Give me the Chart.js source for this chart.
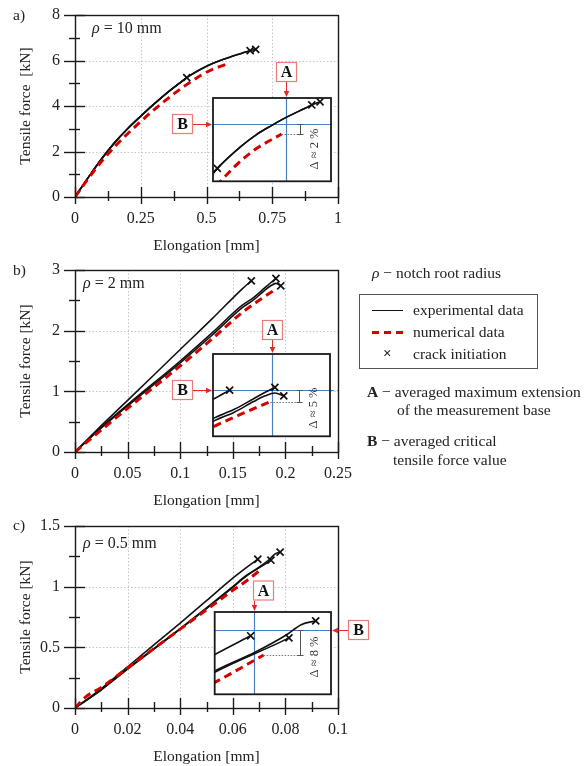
<!DOCTYPE html>
<html>
<head>
<meta charset="utf-8">
<script src="https://cdn.jsdelivr.net/npm/chart.js@4.4.1/dist/chart.umd.min.js"></script>
<style>
  body { margin: 0; background: #fff; }
  #page { position: relative; width: 586px; height: 766px; overflow: hidden;
          font-family: "Liberation Serif", "DejaVu Serif", serif; color: #222; }
  canvas { position: absolute; }
  .t { position: absolute; white-space: nowrap; font-size: 15.5px; line-height: 1; }
  .legend { position: absolute; left: 359px; top: 294px; width: 177px; height: 73px; border: 1px solid #555; }
  .sample { position: absolute; left: 12px; width: 31px; }
</style>
</head>
<body>
<div id="page">
  <canvas id="mainA" width="360" height="256" style="left:0;top:0"></canvas>
  <canvas id="mainB" width="360" height="256" style="left:0;top:255px"></canvas>
  <canvas id="mainC" width="360" height="256" style="left:0;top:511px"></canvas>
  <canvas id="insetA" width="172" height="130" style="left:168px;top:58px"></canvas>
  <canvas id="insetB" width="172" height="128" style="left:168px;top:315px"></canvas>
  <canvas id="insetC" width="166" height="125" style="left:208px;top:576px"></canvas>

  <div class="t" style="left:13px;top:7px">a)</div>
  <div class="t" style="left:13px;top:262px">b)</div>
  <div class="t" style="left:13px;top:517px">c)</div>
  <div class="t" style="left:92px;top:20px;font-size:16px"><i>ρ</i> = 10 mm</div>
  <div class="t" style="left:83px;top:275px;font-size:16px"><i>ρ</i> = 2 mm</div>
  <div class="t" style="left:83px;top:535px;font-size:16px"><i>ρ</i> = 0.5 mm</div>

  <div class="t" style="left:372px;top:265px"><i>ρ</i> − notch root radius</div>
  <div class="legend">
    <div class="sample" style="top:15px;height:0;border-top:1.6px solid #111"></div>
    <div class="sample" style="top:36px;height:3px;background:repeating-linear-gradient(90deg,#d40000 0 7px,transparent 7px 12px)"></div>
    <div class="t" style="left:23px;top:51px;font-size:15px;font-weight:bold">×</div>
    <div class="t" style="left:53px;top:7px">experimental data</div>
    <div class="t" style="left:53px;top:29px">numerical data</div>
    <div class="t" style="left:53px;top:51px">crack initiation</div>
  </div>
  <div class="t" style="left:367px;top:384px"><b>A</b> − averaged maximum extension</div>
  <div class="t" style="left:397px;top:402px">of the measurement base</div>
  <div class="t" style="left:367px;top:433px"><b>B</b> − averaged critical</div>
  <div class="t" style="left:393px;top:452px">tensile force value</div>
</div>

<script>
Chart.defaults.font.family = "'Liberation Serif', 'DejaVu Serif', serif";
Chart.defaults.font.size = 16;
Chart.defaults.color = '#222';

// a) rho = 10 mm
const aExp1X = [0, 0.05, 0.1, 0.15, 0.2, 0.25, 0.3, 0.35, 0.4, 0.425];
const aExp1Y = [0, 0.85, 1.66, 2.38, 3.0, 3.55, 4.08, 4.58, 5.03, 5.25];
const aExp2X = [0, 0.05, 0.1, 0.15, 0.2, 0.25, 0.3, 0.35, 0.4, 0.425, 0.487, 0.525, 0.564, 0.598, 0.649, 0.666];
const aExp2Y = [0, 0.85, 1.66, 2.38, 3.0, 3.55, 4.08, 4.58, 5.03, 5.25, 5.67, 5.88, 6.05, 6.19, 6.37, 6.43];
const aExp3X = [0, 0.05, 0.1, 0.15, 0.2, 0.25, 0.3, 0.35, 0.4, 0.425, 0.487, 0.525, 0.564, 0.598, 0.649, 0.666, 0.687];
const aExp3Y = [0, 0.85, 1.66, 2.38, 3.0, 3.55, 4.08, 4.58, 5.03, 5.25, 5.67, 5.88, 6.05, 6.19, 6.37, 6.43, 6.49];
const aNumX = [0, 0.05, 0.1, 0.15, 0.2, 0.25, 0.3, 0.35, 0.4, 0.432, 0.4745, 0.521, 0.589];
const aNumY = [0, 0.8, 1.55, 2.2, 2.78, 3.32, 3.83, 4.3, 4.74, 5.0, 5.32, 5.6, 5.89];
const aCrackX = [0.425, 0.666, 0.687];
const aCrackY = [5.25, 6.43, 6.49];
const aInsetX = [0.414, 0.715];
const aInsetY = [5.01, 6.56];
const aAvgExt = 0.6;      // A
const aCritForce = 6.07;  // B

// b) rho = 2 mm
const bExp1X = [0, 0.02, 0.05, 0.1, 0.13, 0.159, 0.1676];
const bExp1Y = [0, 0.35, 0.85, 1.69, 2.19, 2.69, 2.82];
const bExp2X = [0, 0.02, 0.05, 0.1, 0.13, 0.159, 0.17, 0.18, 0.186, 0.191];
const bExp2Y = [0, 0.33, 0.78, 1.5, 1.96, 2.42, 2.55, 2.7, 2.79, 2.86];
const bExp3X = [0, 0.02, 0.05, 0.1, 0.13, 0.159, 0.17, 0.18, 0.186, 0.191, 0.1956];
const bExp3Y = [0, 0.32, 0.76, 1.47, 1.92, 2.38, 2.51, 2.66, 2.74, 2.78, 2.74];
const bNumX = [0, 0.02, 0.05, 0.1, 0.13, 0.159, 0.175, 0.1887];
const bNumY = [0, 0.29, 0.72, 1.42, 1.86, 2.3, 2.5, 2.66];
const bCrackX = [0.1676, 0.191, 0.1956];
const bCrackY = [2.82, 2.86, 2.74];
const bInsetX = [0.159, 0.2195];
const bInsetY = [2.17, 3.33];
const bAvgExt = 0.1893;
const bCritForce = 2.82;

// c) rho = 0.5 mm
const cExp1X = [0, 0.01, 0.02, 0.03, 0.04, 0.05, 0.06, 0.065, 0.0695];
const cExp1Y = [0, 0.16, 0.34, 0.52, 0.7, 0.885, 1.07, 1.155, 1.226];
const cExp2X = [0, 0.01, 0.02, 0.03, 0.04, 0.05, 0.06, 0.065, 0.0733, 0.0745];
const cExp2Y = [0, 0.15, 0.32, 0.485, 0.65, 0.82, 0.995, 1.085, 1.2, 1.218];
const cExp3X = [0, 0.01, 0.02, 0.03, 0.04, 0.05, 0.06, 0.065, 0.07, 0.0742, 0.0761, 0.078];
const cExp3Y = [0, 0.15, 0.325, 0.49, 0.655, 0.825, 1.0, 1.09, 1.16, 1.23, 1.27, 1.285];
const cNumX = [0, 0.004, 0.01, 0.02, 0.03, 0.04, 0.05, 0.06, 0.065, 0.0712];
const cNumY = [0, 0.09, 0.17, 0.33, 0.49, 0.65, 0.81, 0.97, 1.045, 1.15];
const cCrackX = [0.0695, 0.0745, 0.078];
const cCrackY = [1.226, 1.218, 1.285];
const cInsetX = [0.0648, 0.08];
const cInsetY = [0.995, 1.32];
const cAvgExt = 0.0699;
const cCritForce = 1.247;

const pts = (xs, ys) => xs.map((x, i) => ({ x, y: ys[i] }));
const fmt = v => String(Math.round(v * 1000) / 1000);
const px = v => Math.round(v) + 0.5;

function seg(ctx, x1, y1, x2, y2) {
  ctx.beginPath(); ctx.moveTo(x1, y1); ctx.lineTo(x2, y2); ctx.stroke();
}

// frame, dotted grid and the ticks that cross the left/bottom axes
const axesBox = {
  id: 'axesBox',
  beforeDatasetsDraw(chart, args, o) {
    const { ctx, chartArea: a, scales: { x, y } } = chart;
    ctx.save();
    ctx.strokeStyle = '#c6c6c6'; ctx.lineWidth = 1; ctx.setLineDash([1.5, 2]);
    x.ticks.forEach(t => {
      const p = px(x.getPixelForValue(t.value));
      if (p > a.left + 2 && p < a.right - 2) seg(ctx, p, a.top, p, a.bottom);
    });
    y.ticks.forEach(t => {
      const p = px(y.getPixelForValue(t.value));
      if (p > a.top + 2 && p < a.bottom - 2) seg(ctx, a.left, p, a.right, p);
    });
    ctx.restore();
  },
  afterDatasetsDraw(chart, args, o) {
    const { ctx, chartArea: a, scales: { x, y } } = chart;
    ctx.save();
    ctx.strokeStyle = '#1a1a1a'; ctx.lineWidth = 1.4;
    ctx.strokeRect(px(a.left), px(a.top), Math.round(a.right - a.left), Math.round(a.bottom - a.top));
    const nx = Math.round((x.max - x.min) / o.xMinor);
    for (let i = 0; i <= nx; i++) {
      const p = px(x.getPixelForValue(x.min + i * o.xMinor));
      const major = i % 2 === 0;
      seg(ctx, p, a.bottom - (major ? 10 : 6), p, a.bottom + (major ? 7 : 4));
    }
    const ny = Math.round((y.max - y.min) / o.yMinor);
    for (let i = 0; i <= ny; i++) {
      const p = px(y.getPixelForValue(y.min + i * o.yMinor));
      const major = i % 2 === 0;
      seg(ctx, a.left - (major ? 11 : 6), p, a.left + (major ? 10 : 5), p);
    }
    ctx.restore();
  }
};

function arrow(ctx, x1, y1, x2, y2) {
  const ang = Math.atan2(y2 - y1, x2 - x1), L = 6, W = 2.8;
  ctx.beginPath(); ctx.moveTo(x1, y1); ctx.lineTo(x2 - L * Math.cos(ang), y2 - L * Math.sin(ang)); ctx.stroke();
  ctx.beginPath();
  ctx.moveTo(x2, y2);
  ctx.lineTo(x2 - L * Math.cos(ang) - W * Math.sin(ang), y2 - L * Math.sin(ang) + W * Math.cos(ang));
  ctx.lineTo(x2 - L * Math.cos(ang) + W * Math.sin(ang), y2 - L * Math.sin(ang) - W * Math.cos(ang));
  ctx.closePath(); ctx.fill();
}

function letterBox(ctx, letter, left, top) {
  ctx.save();
  ctx.fillStyle = '#fff'; ctx.fillRect(left, top, 21, 20);
  ctx.strokeStyle = '#ec7c7c'; ctx.lineWidth = 1.2;
  ctx.strokeRect(left + 0.5, top + 0.5, 20, 19);
  ctx.fillStyle = '#111'; ctx.font = "bold 16px 'Liberation Serif', serif";
  ctx.textAlign = 'center'; ctx.textBaseline = 'middle';
  ctx.fillText(letter, left + 10.5, top + 11);
  ctx.restore();
}

// white backdrop, A/B lines, delta marker and the A/B call-outs of an inset
const insetMarks = {
  id: 'insetMarks',
  beforeDraw(chart) {
    const { ctx, chartArea: a } = chart;
    ctx.save(); ctx.fillStyle = '#fff';
    ctx.fillRect(a.left, a.top, a.right - a.left, a.bottom - a.top);
    ctx.restore();
  },
  beforeDatasetsDraw(chart, args, o) {
    const { ctx, chartArea: a, scales: { x, y } } = chart;
    const xa = px(x.getPixelForValue(o.a)), yb = px(y.getPixelForValue(o.b));
    ctx.save();
    ctx.strokeStyle = '#4a80c0'; ctx.lineWidth = 1.2;
    seg(ctx, xa, a.top, xa, a.bottom);
    seg(ctx, a.left, yb, a.right, yb);
    if (o.bExtend) { ctx.setLineDash([4, 3]); seg(ctx, a.right, yb, a.right + o.bExtend, yb); }
    ctx.restore();
  },
  afterDraw(chart, args, o) {
    const { ctx, chartArea: a, scales: { x, y } } = chart;
    const xa = px(x.getPixelForValue(o.a)), yb = px(y.getPixelForValue(o.b));
    const xn = x.getPixelForValue(o.numEndX), yn = px(y.getPixelForValue(o.numEndY));
    const xm = px(a.left + 0.735 * (a.right - a.left));
    ctx.save();
    // dotted level of the numerical end point and the delta bracket
    ctx.strokeStyle = '#777'; ctx.lineWidth = 1; ctx.setLineDash([1.5, 1.5]);
    seg(ctx, xn, yn, xm, yn);
    ctx.setLineDash([]); ctx.strokeStyle = '#555';
    seg(ctx, xm, yb, xm, yn);
    seg(ctx, xm - 3, yb, xm + 3, yb);
    seg(ctx, xm - 3, yn, xm + 3, yn);
    ctx.save();
    ctx.translate(a.left + 0.86 * (a.right - a.left), yb + o.textDy);
    ctx.rotate(-Math.PI / 2);
    ctx.fillStyle = '#333'; ctx.font = "12.5px 'Liberation Serif', serif";
    ctx.textAlign = 'right'; ctx.textBaseline = 'middle';
    ctx.fillText(o.delta, 0, 0);
    ctx.restore();
    // frame
    ctx.strokeStyle = '#1a1a1a'; ctx.lineWidth = 1.8;
    ctx.strokeRect(a.left, a.top, a.right - a.left, a.bottom - a.top);
    // A call-out
    ctx.strokeStyle = '#e02828'; ctx.fillStyle = '#e02828'; ctx.lineWidth = 1;
    const aBottom = a.top - o.aGap;
    arrow(ctx, xa, aBottom, xa, a.top - 1);
    letterBox(ctx, 'A', Math.round(xa + o.aShift), aBottom - 20);
    // B call-out
    ctx.strokeStyle = '#e02828'; ctx.fillStyle = '#e02828';
    if (o.bSide === 'left') {
      arrow(ctx, a.left - 20, yb, a.left - 1, yb);
      letterBox(ctx, 'B', a.left - 41, Math.round(yb - 10.5));
    } else {
      arrow(ctx, a.right + 17, yb, a.right + 1, yb);
      letterBox(ctx, 'B', a.right + 17, Math.round(yb - 10.5));
    }
    ctx.restore();
  }
};

function datasets(p, clip) {
  const sets = [
    { data: pts(p.crackX, p.crackY), showLine: false, pointStyle: 'crossRot', pointRadius: 5,
      borderColor: '#111', backgroundColor: '#111', borderWidth: 1.7, clip },
    { data: pts(p.numX, p.numY), showLine: true, borderColor: '#d40000', borderWidth: 3,
      borderDash: [8, 5], pointRadius: 0, cubicInterpolationMode: 'monotone', clip }
  ];
  p.exp.forEach(e => sets.push({ data: pts(e[0], e[1]), showLine: true, borderColor: '#111',
    borderWidth: 1.6, pointRadius: 0, cubicInterpolationMode: 'monotone', clip }));
  return sets;
}

const panels = [
  { main: 'mainA', inset: 'insetA', exp: [[aExp1X, aExp1Y], [aExp2X, aExp2Y], [aExp3X, aExp3Y]],
    numX: aNumX, numY: aNumY, crackX: aCrackX, crackY: aCrackY,
    xMax: 1, xStep: 0.25, yMax: 8, yStep: 2, yTitle: 'Tensile force  [kN]',
    insetX: aInsetX, insetY: aInsetY, A: aAvgExt, B: aCritForce, delta: 'Δ ≈ 2 %',
    pad: { left: 45, top: 40, right: 9, bottom: 5 }, aGap: 16, aShift: -10.5, bSide: 'left', textDy: 4, bExtend: 0 },
  { main: 'mainB', inset: 'insetB', exp: [[bExp1X, bExp1Y], [bExp2X, bExp2Y], [bExp3X, bExp3Y]],
    numX: bNumX, numY: bNumY, crackX: bCrackX, crackY: bCrackY,
    xMax: 0.25, xStep: 0.05, yMax: 3, yStep: 1, yTitle: 'Tensile force [kN]',
    insetX: bInsetX, insetY: bInsetY, A: bAvgExt, B: bCritForce, delta: 'Δ ≈ 5 %',
    pad: { left: 45, top: 39, right: 10, bottom: 5 }, aGap: 14, aShift: -10.5, bSide: 'left', textDy: -3, bExtend: 8 },
  { main: 'mainC', inset: 'insetC', exp: [[cExp1X, cExp1Y], [cExp2X, cExp2Y], [cExp3X, cExp3Y]],
    numX: cNumX, numY: cNumY, crackX: cCrackX, crackY: cCrackY,
    xMax: 0.1, xStep: 0.02, yMax: 1.5, yStep: 0.5, yTitle: 'Tensile force [kN]',
    insetX: cInsetX, insetY: cInsetY, A: cAvgExt, B: cCritForce, delta: 'Δ ≈ 8 %',
    pad: { left: 5, top: 36, right: 43, bottom: 5 }, aGap: 11.5, aShift: -2, bSide: 'right', textDy: 6, bExtend: 0 }
];

panels.forEach(p => {
  new Chart(document.getElementById(p.main), {
    type: 'scatter',
    data: { datasets: datasets(p, undefined) },
    options: {
      responsive: false, animation: false, events: [],
      layout: { padding: { top: 15, right: 22, left: 0, bottom: 0 } },
      plugins: { legend: { display: false }, tooltip: { enabled: false },
                 axesBox: { xMinor: p.xStep / 2, yMinor: p.yStep / 2 } },
      scales: {
        x: { type: 'linear', min: 0, max: p.xMax,
             grid: { display: false, drawTicks: true, tickLength: 12 }, border: { display: false },
             ticks: { stepSize: p.xStep, padding: 0, autoSkip: false, maxRotation: 0, callback: fmt },
             title: { display: true, text: 'Elongation [mm]', font: { size: 15.5 }, padding: { top: 0, bottom: 1 } },
             afterFit: s => { s.height = 59; } },
        y: { type: 'linear', min: 0, max: p.yMax,
             grid: { display: false, drawTicks: true, tickLength: 15 }, border: { display: false },
             ticks: { stepSize: p.yStep, padding: 0, autoSkip: false, callback: fmt },
             title: { display: true, text: p.yTitle, font: { size: 15.5 }, padding: { top: 17, bottom: 0 } },
             afterFit: s => { s.width = 75; } }
      }
    },
    plugins: [axesBox]
  });

  new Chart(document.getElementById(p.inset), {
    type: 'scatter',
    data: { datasets: datasets(p, 0) },
    options: {
      responsive: false, animation: false, events: [],
      layout: { padding: p.pad },
      plugins: { legend: { display: false }, tooltip: { enabled: false },
                 insetMarks: { a: p.A, b: p.B, numEndX: p.numX[p.numX.length - 1], numEndY: p.numY[p.numY.length - 1],
                               delta: p.delta, aGap: p.aGap, aShift: p.aShift, bSide: p.bSide,
                               textDy: p.textDy, bExtend: p.bExtend } },
      scales: {
        x: { type: 'linear', display: false, min: p.insetX[0], max: p.insetX[1] },
        y: { type: 'linear', display: false, min: p.insetY[0], max: p.insetY[1] }
      }
    },
    plugins: [insetMarks]
  });
});
</script>
</body>
</html>
